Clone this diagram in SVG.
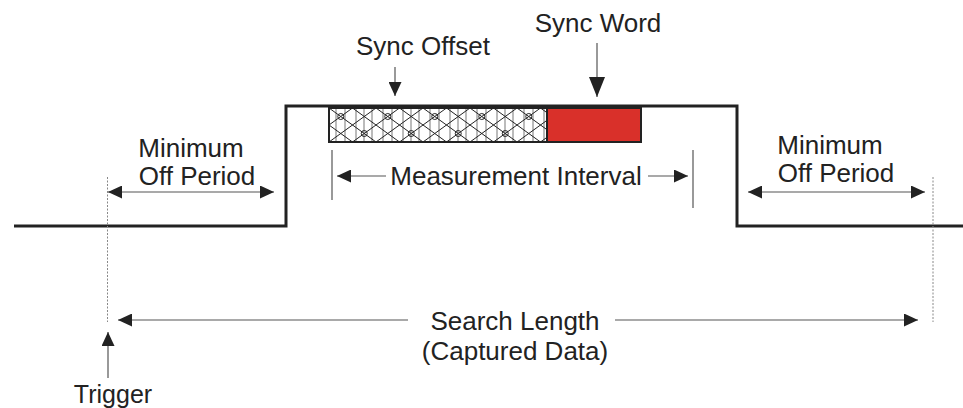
<svg xmlns="http://www.w3.org/2000/svg" width="963" height="408" viewBox="0 0 963 408">
<style>
text{font-family:"Liberation Sans",Arial,sans-serif;font-size:26px;fill:#222}
.wave{fill:none;stroke:#222;stroke-width:3}
.conn{stroke:#555;stroke-width:1.2;fill:none}
.dot{stroke:#888;stroke-width:1;stroke-dasharray:2 1.5;fill:none}
.tick{stroke:#555;stroke-width:1.2}
</style>
<defs>
<marker id="ah" viewBox="0 0 14 13" refX="14" refY="6.5" markerWidth="14" markerHeight="13" markerUnits="userSpaceOnUse" orient="auto-start-reverse">
<path d="M0,0 L14,6.5 L0,13 Z" fill="#222"/>
</marker>
<marker id="ahBig" viewBox="0 0 20 16" refX="20" refY="8" markerWidth="20" markerHeight="16" markerUnits="userSpaceOnUse" orient="auto">
<path d="M0,0 L20,8 L0,16 Z" fill="#222"/>
</marker>
<pattern id="hatch" patternUnits="userSpaceOnUse" x="329" y="108" width="47" height="34">
<rect width="47" height="34" fill="#fff"/>
<g stroke="#777" stroke-width="1">
<line x1="7" y1="0" x2="7" y2="34"/><line x1="16" y1="0" x2="16" y2="34"/><line x1="27" y1="0" x2="27" y2="34"/><line x1="35" y1="0" x2="35" y2="34"/><line x1="43" y1="0" x2="43" y2="34"/>
</g>
<g stroke="#222" stroke-width="1" fill="none">
<line x1="0" y1="0" x2="47" y2="34"/><line x1="0" y1="34" x2="47" y2="0"/>
<line x1="-23.5" y1="0" x2="23.5" y2="34"/><line x1="23.5" y1="0" x2="70.5" y2="34"/>
<line x1="-23.5" y1="34" x2="23.5" y2="0"/><line x1="23.5" y1="34" x2="70.5" y2="0"/>
<circle cx="11.75" cy="8.5" r="3"/><circle cx="35.25" cy="25.5" r="3"/>
</g>
</pattern>
</defs>

<g id="waveform">
<polyline class="wave" points="14,226 286,226 286,106 737,106 737,226 963,226"/>
</g>

<g id="sync-offset-block">
<rect x="329" y="108" width="218" height="34" fill="url(#hatch)" stroke="#222" stroke-width="2"/>
</g>
<g id="sync-word-block">
<rect x="547" y="108" width="94" height="34" fill="#d9302a" stroke="#222" stroke-width="2"/>
</g>

<g id="labels">
<text x="598" y="32" text-anchor="middle">Sync Word</text>
<text x="423" y="55" text-anchor="middle">Sync Offset</text>
<text x="191" y="157" text-anchor="middle">Minimum</text>
<text x="197" y="185" text-anchor="middle">Off Period</text>
<text x="830" y="154" text-anchor="middle">Minimum</text>
<text x="836" y="182" text-anchor="middle">Off Period</text>
<text x="516" y="185" text-anchor="middle">Measurement Interval</text>
<text x="515" y="330" text-anchor="middle">Search Length</text>
<text x="515" y="360" text-anchor="middle">(Captured Data)</text>
<text x="113" y="403" text-anchor="middle" style="font-size:25px">Trigger</text>
</g>

<g id="connectors">
<line class="dot" x1="107.5" y1="177" x2="107.5" y2="322"/>
<line class="dot" x1="933" y1="177" x2="933" y2="322"/>
<line class="tick" x1="332" y1="150" x2="332" y2="200"/>
<line class="tick" x1="693" y1="150" x2="693" y2="208"/>
<line class="conn" x1="597" y1="43" x2="597" y2="97" marker-end="url(#ahBig)"/>
<line class="conn" x1="395" y1="67" x2="395" y2="96" marker-end="url(#ah)"/>
<line class="conn" x1="108" y1="192" x2="274" y2="192" marker-start="url(#ah)" marker-end="url(#ah)"/>
<line class="conn" x1="748" y1="192" x2="925" y2="192" marker-start="url(#ah)" marker-end="url(#ah)"/>
<line class="conn" x1="337" y1="176" x2="386" y2="176" marker-start="url(#ah)"/>
<line class="conn" x1="648" y1="176" x2="688" y2="176" marker-end="url(#ah)"/>
<line class="conn" x1="118" y1="320" x2="408" y2="320" marker-start="url(#ah)"/>
<line class="conn" x1="615" y1="320" x2="918" y2="320" marker-end="url(#ah)"/>
<line class="conn" x1="108" y1="378" x2="108" y2="332" marker-end="url(#ah)"/>
</g>
</svg>
